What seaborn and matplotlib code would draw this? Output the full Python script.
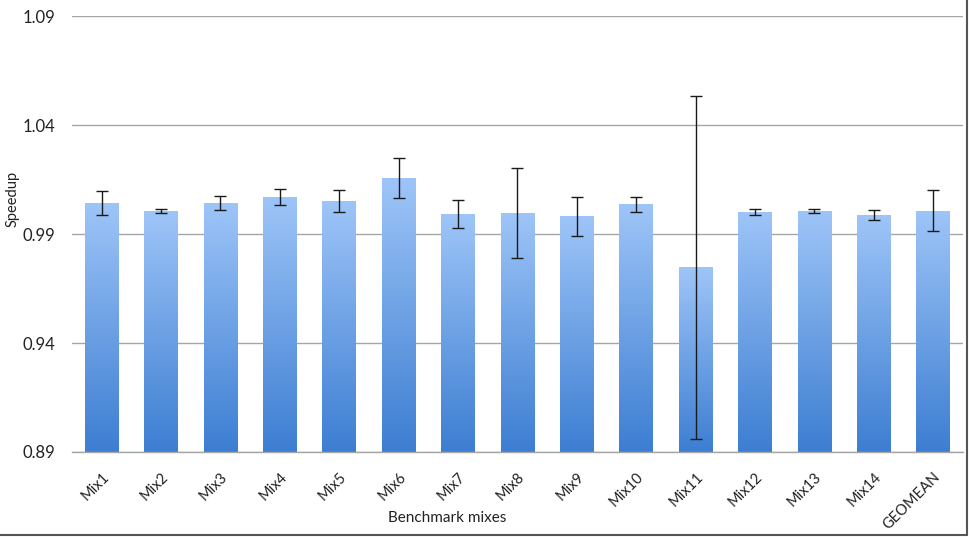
import numpy as np
import pandas as pd
import matplotlib
matplotlib.use('Agg')
import matplotlib.pyplot as plt
import seaborn as sns
from matplotlib.colors import LinearSegmentedColormap
from matplotlib.lines import Line2D

# Data
mixes = ['Mix1', 'Mix2', 'Mix3', 'Mix4', 'Mix5', 'Mix6', 'Mix7', 'Mix8',
         'Mix9', 'Mix10', 'Mix11', 'Mix12', 'Mix13', 'Mix14', 'GEOMEAN']
speedup = [1.0043, 1.0004, 1.0043, 1.0071, 1.0050, 1.0157, 0.9992, 0.9998,
           0.9981, 1.0036, 0.9747, 1.0002, 1.0006, 0.9987, 1.0007]
err = [0.0054, 0.0009, 0.0031, 0.0037, 0.0050, 0.0090, 0.0064, 0.0207,
       0.0088, 0.0033, 0.0787, 0.0014, 0.0011, 0.0024, 0.0093]
yticks = [0.89, 0.94, 0.99, 1.04, 1.09]

df = pd.DataFrame({'Mix': mixes, 'Speedup': speedup, 'Err': err})

sns.set_style('white')
plt.rcParams['font.family'] = ['Lato', 'DejaVu Sans']

fig = plt.figure(figsize=(9.69, 5.37), dpi=100)
ax = fig.add_axes([0.0743, 0.1583, 0.9195, 0.8117])

sns.barplot(data=df, x='Mix', y='Speedup', color='#7FAAEA', width=0.57,
            errorbar=None, ax=ax, zorder=2)

ax.set_ylim(0.89, 1.09)
ax.set_xlim(-0.5, len(mixes) - 0.5)

# gradient fill, light at top, darker at bottom
cmap = LinearSegmentedColormap.from_list('bar', ['#3D7ED2', '#9EC5F8'])
grad = np.linspace(0, 1, 256).reshape(-1, 1)
for p in ax.patches:
    x0, w = p.get_x(), p.get_width()
    top = p.get_y() + p.get_height()
    im = ax.imshow(grad, extent=[x0, x0 + w, 0.89, top], origin='lower',
                   aspect='auto', cmap=cmap, zorder=2)
    im.set_clip_path(p)
    p.set_facecolor('none')
    p.set_edgecolor('none')

ax.errorbar(np.arange(len(mixes)), df['Speedup'], yerr=df['Err'], fmt='none',
            ecolor='#1a1a1a', elinewidth=1.0, capsize=4, capthick=1.0, zorder=3)

ax.set_yticks(yticks)
ax.set_yticklabels([f'{v:.2f}' for v in yticks], fontsize=12, color='#222222')
ax.yaxis.grid(True, color='#A6A6A6', linewidth=1.0, zorder=0)
ax.set_axisbelow(True)
ax.tick_params(axis='y', length=0, pad=12)
ax.tick_params(axis='x', length=0, pad=13)
for s in ['top', 'right', 'left']:
    ax.spines[s].set_visible(False)
ax.spines['bottom'].set_color('#A6A6A6')
ax.spines['bottom'].set_linewidth(1.0)

ax.set_xticks(np.arange(len(mixes)))
ax.set_xticklabels(mixes, rotation=45, ha='right', rotation_mode='anchor',
                   fontsize=10.5, color='#222222')
ax.set_xlabel('')
ax.set_ylabel('')
fig.text(0.462, 0.035, 'Benchmark mixes', ha='center', va='center',
         fontsize=11, color='#222222')
fig.text(0.013, 0.63, 'Speedup', rotation=90, ha='center', va='center',
         fontsize=10.5, color='#222222')

# frame lines at right and bottom of the picture
fig.add_artist(Line2D([0.998, 0.998], [0.003, 1.0], transform=fig.transFigure,
                      color='#555555', linewidth=1.5))
fig.add_artist(Line2D([0, 0.998], [0.003, 0.003], transform=fig.transFigure,
                      color='#555555', linewidth=1.5))

fig.savefig('out.png', dpi=100)
